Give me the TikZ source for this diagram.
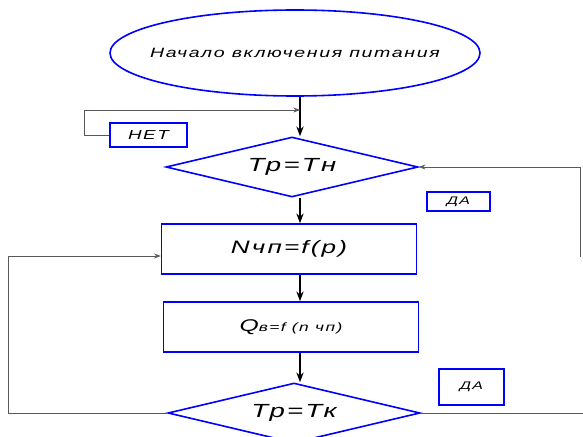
\documentclass[tikz,border=0pt]{standalone}
\usepackage{fontspec}
\usetikzlibrary{arrows.meta, shapes.geometric}
\newfontfamily\gostfont[LetterSpace=12,FakeStretch=1.45]{Liberation Sans}

\begin{document}
\begin{tikzpicture}[
    x=1pt, y=-1pt,
    >=Stealth,
    % Стили блоков схемы
    start_node/.style={ellipse, draw=blue, line width=1.6pt, minimum width=370, minimum height=86, inner xsep=-14pt, inner ysep=0pt, font=\gostfont\itshape\fontsize{13.5}{15}\selectfont},
    cond_node/.style={diamond, aspect=4.2, draw=blue, line width=1.6pt, minimum width=252, minimum height=60, inner sep=0pt, font=\gostfont\itshape\fontsize{19}{22}\selectfont},
    proc_node/.style={rectangle, draw=blue, line width=1.6pt, minimum width=255, minimum height=50, inner sep=0pt, font=\gostfont\itshape\fontsize{18}{21}\selectfont},
    tag_node/.style={rectangle, draw=blue, line width=1.4pt, inner sep=0pt, font=\gostfont\itshape},
    % Линии связи
    main_line/.style={draw=black, line width=1.5pt},
    side_line/.style={draw=black!65, line width=0.8pt}
]
    \useasboundingbox (0,0) rectangle (583,436);
    \clip (0,0) rectangle (583,436);

    % --- 1. БЛОКИ ---
    \node[start_node] (start) at (295, 53) {Начало включения питания};
    \node[cond_node] (d1) at (292, 167) {Тр=Тн};
    \node[proc_node] (r1) at (289, 249) {Nчп=f(p)};
    \node[proc_node] (r2) at (291, 327) {{\fontsize{17}{20}\selectfont Q}{\fontsize{12}{14}\selectfont в=f (n чп)}};
    \node[cond_node] (d2) at (294, 413) {Тр=Тк};

    % --- 2. ПОДПИСИ ВЕТВЕЙ ---
    \node[tag_node, minimum width=77, minimum height=24, font=\gostfont\itshape\fontsize{13}{15}\selectfont] (net) at (148.5, 135) {НЕТ};
    \node[tag_node, minimum width=63, minimum height=19, font=\gostfont\itshape\fontsize{11}{13}\selectfont] (da1) at (458.5, 201.5) {ДА};
    \node[tag_node, minimum width=65, minimum height=36, font=\gostfont\itshape\fontsize{11}{13}\selectfont] (da2) at (471.5, 387) {ДА};

    % --- 3. ВСПОМОГАТЕЛЬНЫЕ ТОЧКИ ---
    \coordinate (axis) at (300, 0);
    \coordinate (j1) at (300, 110);
    \coordinate (c1) at (84, 110);
    \coordinate (c2) at (580, 257);
    \coordinate (c3) at (8, 256);
    \coordinate (c4) at (583, 413);

    % --- 4. ОСНОВНОЙ ПОТОК ---
    \draw[main_line, ->] (axis |- start.south) -- (axis |- d1.north);
    \draw[main_line, ->] (axis |- d1.south) -- (axis |- r1.north);
    \draw[main_line, ->] (axis |- r1.south) -- (axis |- r2.north);
    \draw[main_line, ->] (axis |- r2.south) -- (axis |- d2.north);

    % --- 5. ОБРАТНЫЕ СВЯЗИ ---
    \draw[side_line, ->] (net.west) -| (c1) -- (j1);
    \draw[side_line, <-] (d1.east) -| (c2);
    \draw[side_line, ->] (d2.west) -| (c3) -- (c3 -| r1.west);
    \draw[side_line] (d2.east) -- (c4);

\end{tikzpicture}
\end{document}
